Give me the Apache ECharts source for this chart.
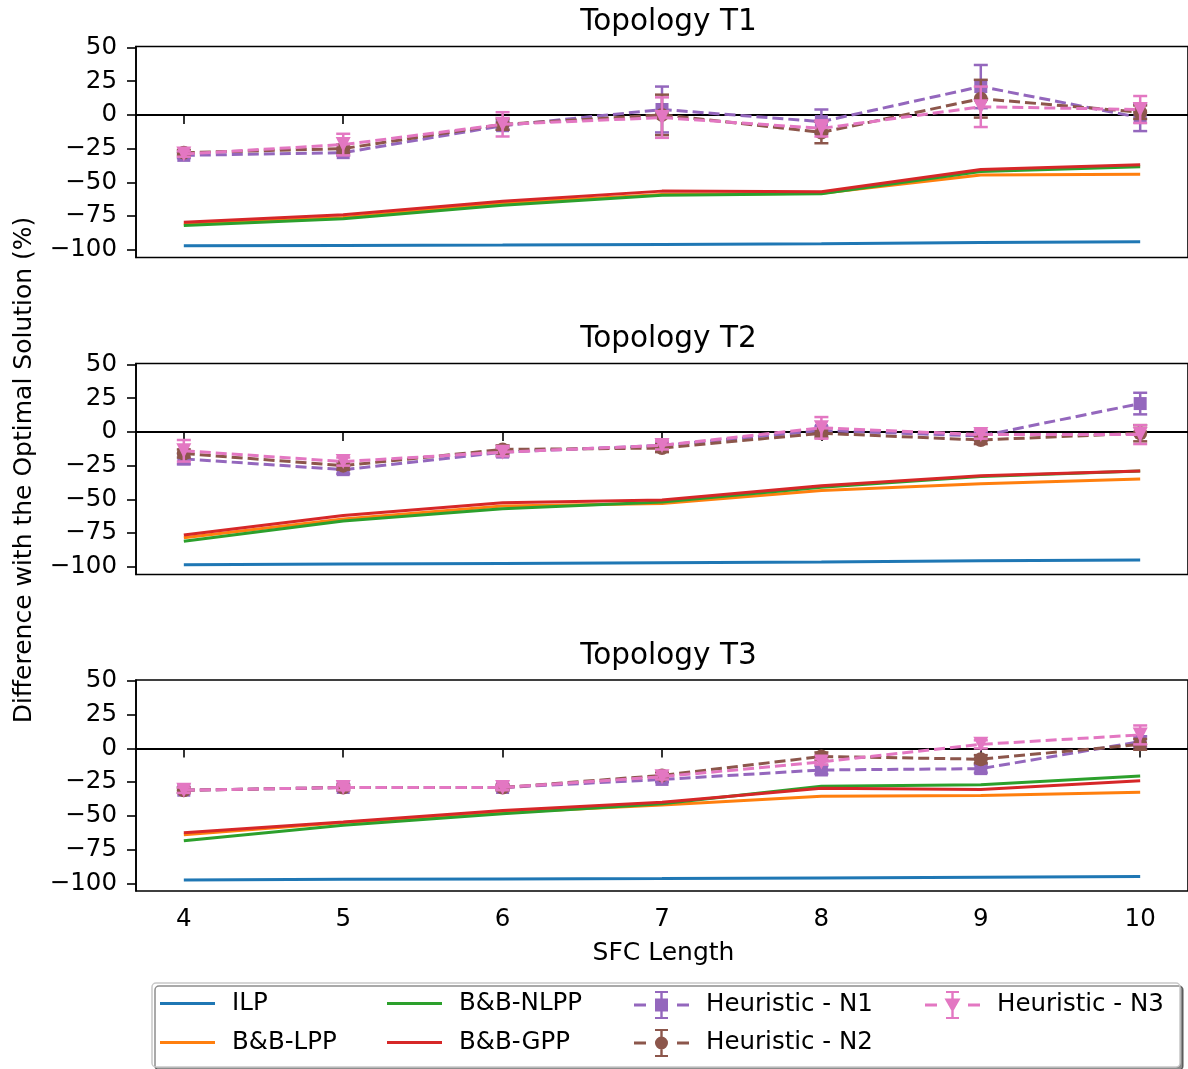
<!DOCTYPE html>
<html>
<head>
<meta charset="UTF-8">
<title>Topology T1-T3</title>
<script src="https://cdn.jsdelivr.net/npm/echarts@6/dist/echarts.min.js"></script>
<style>
  html, body { margin: 0; padding: 0; background: #fff; }
  #chart { width: 1188px; height: 1069px; }
</style>
</head>
<body>
<div id="chart"></div>
<script type="text/javascript">
// x values (SFC length) and subplot titles
var sfcLength = [4, 5, 6, 7, 8, 9, 10];
var topologies = ['Topology T1', 'Topology T2', 'Topology T3'];
var yTicks = [-100, -75, -50, -25, 0, 25, 50];

// one row per topology (T1, T2, T3)
var ilp = [
  [-97, -96.8, -96.5, -96, -95.5, -94.5, -94],
  [-98.5, -98, -97.5, -97, -96.5, -95.5, -95],
  [-97.5, -97, -96.8, -96.5, -96, -95.5, -95]
];
var bbLpp = [
  [-81, -76, -65.5, -59, -58, -44.5, -44],
  [-78.5, -64.5, -55, -53, -43.5, -38.5, -35],
  [-64, -55, -47.5, -42, -35.5, -35, -32.5]
];
var bbNlpp = [
  [-82, -77, -67, -59.5, -58.5, -42, -38.5],
  [-81, -66, -57, -52, -41, -33, -29],
  [-68.5, -57, -48.5, -41, -28, -27, -20.5]
];
var bbGpp = [
  [-79.5, -74, -64, -56.5, -57, -40.5, -37],
  [-76.5, -62, -52.5, -50.5, -40, -32.5, -29],
  [-62.5, -54.5, -46, -40, -29.5, -30.5, -24]
];
var heurN1 = [
  [-30, -28, -8, 4, -5, 21, -2],
  [-20, -28, -15, -10, 1, -3, 21],
  [-31, -29, -29, -23, -16, -15, 5]
];
var heurN1Err = [
  [2, 2, 3, 17, 9, 16, 10],
  [4, 3, 3, 2, 3, 3, 8],
  [2, 2, 2, 2, 3, 3, 4]
];
var heurN2 = [
  [-28, -25, -7, 0, -13, 12, 2],
  [-16, -25, -13, -12, -1, -6, -1],
  [-31, -29, -29, -20, -6, -8, 3]
];
var heurN2Err = [
  [2, 3, 4, 15, 8, 14, 5],
  [3, 3, 3, 3, 3, 3, 6],
  [2, 2, 2, 2, 3, 3, 4]
];
var heurN3 = [
  [-29, -22, -7, -2, -10, 6, 4],
  [-14, -22, -15, -10, 3, -2, -2],
  [-31, -29, -29, -21, -10, 3, 10]
];
var heurN3Err = [
  [2, 8, 9, 15, 6, 15, 10],
  [8, 3, 3, 3, 8, 3, 7],
  [2, 2, 2, 2, 2, 3, 7]
];

var FONT = 'DejaVu Sans';
var gridTops = [46.5, 363.5, 680];

// legend icons drawn like matplotlib handles (dash - marker/errorbar - dash)
var lineIcon = 'path://M0,0H55V3H0Z';
var errIconBase = 'M0,12.5H12V15.5H0Z M43,12.5H55V15.5H43Z M26.3,1H28.7V27H26.3Z M21,0H34V2H21Z M21,26H34V28H21Z ';
var iconN1 = 'path://' + errIconBase + 'M21,7.5H34V20.5H21Z';
var iconN2 = 'path://' + errIconBase + 'M27.5,7.5A6.5,6.5 0 1 1 27.49,7.5Z';
var iconN3 = 'path://' + errIconBase + 'M19.5,7.5H35.5L27.5,21.5Z';

var chart = echarts.init(document.getElementById('chart'));

function pairs(vals) {
  return sfcLength.map(function (x, i) { return [x, vals[i]]; });
}
function errData(vals, errs) {
  return sfcLength.map(function (x, i) { return [x, vals[i], errs[i]]; });
}
// vertical error bar with caps
function renderErr(params, api) {
  var x = api.value(0), v = api.value(1), e = api.value(2);
  var top = api.coord([x, v + e]);
  var bot = api.coord([x, v - e]);
  var c = api.visual('color');
  var w = 7;
  var st = { stroke: c, lineWidth: 2.5 };
  return {
    type: 'group',
    children: [
      { type: 'line', shape: { x1: top[0], y1: top[1], x2: bot[0], y2: bot[1] }, style: st },
      { type: 'line', shape: { x1: top[0] - w, y1: top[1], x2: top[0] + w, y2: top[1] }, style: st },
      { type: 'line', shape: { x1: bot[0] - w, y1: bot[1], x2: bot[0] + w, y2: bot[1] }, style: st }
    ]
  };
}

var grids = [], xAxes = [], yAxes = [], titles = [], series = [];

topologies.forEach(function (name, k) {
  grids.push({
    left: 136, top: gridTops[k], width: 1055, height: 211,
    show: true, borderColor: '#000', borderWidth: 1.6, backgroundColor: 'transparent'
  });
  xAxes.push({
    type: 'value', gridIndex: k, min: 3.7, max: 10.3,
    axisLine: { show: true, lineStyle: { color: '#000', width: 1.6 } },
    axisTick: { show: true, length: 9, customValues: sfcLength, lineStyle: { color: '#000', width: 1.6 } },
    axisLabel: { show: k === 2, customValues: sfcLength, margin: 16, color: '#000', fontSize: 24.5, fontFamily: FONT },
    splitLine: { show: false }
  });
  yAxes.push({
    type: 'value', gridIndex: k, min: -105.7, max: 50.7,
    axisLine: { show: true, lineStyle: { color: '#000', width: 1.6 } },
    axisTick: { show: true, length: 9, customValues: yTicks, lineStyle: { color: '#000', width: 1.6 } },
    axisLabel: {
      customValues: yTicks, margin: 19, color: '#000', fontSize: 24.5, fontFamily: FONT,
      formatter: function (v) { return v < 0 ? '\u2212' + Math.abs(v) : String(v); }
    },
    splitLine: { show: false }
  });
  titles.push({
    text: name, left: 663.5, top: gridTops[k] - 44, textAlign: 'center',
    textStyle: { fontSize: 29.5, fontWeight: 'normal', color: '#000', fontFamily: FONT }
  });

  var plain = [
    ['ILP', ilp[k], '#1f77b4'],
    ['B&B-LPP', bbLpp[k], '#ff7f0e'],
    ['B&B-NLPP', bbNlpp[k], '#2ca02c'],
    ['B&B-GPP', bbGpp[k], '#d62728']
  ];
  plain.forEach(function (p, j) {
    var s = {
      name: p[0], type: 'line', xAxisIndex: k, yAxisIndex: k,
      data: pairs(p[1]), symbol: 'none', z: 2 + j,
      itemStyle: { color: p[2] },
      lineStyle: { color: p[2], width: 3 }
    };
    if (j === 0) {
      s.markLine = {
        silent: true, symbol: 'none', label: { show: false },
        lineStyle: { color: '#000', width: 1.8, type: 'solid' },
        data: [{ yAxis: 0 }]
      };
    }
    series.push(s);
  });

  var heur = [
    ['Heuristic - N1', heurN1[k], heurN1Err[k], '#9467bd', 'rect', 0, 13],
    ['Heuristic - N2', heurN2[k], heurN2Err[k], '#8c564b', 'circle', 0, 14],
    ['Heuristic - N3', heurN3[k], heurN3Err[k], '#e377c2', 'triangle', 180, 15]
  ];
  heur.forEach(function (h, j) {
    series.push({
      name: h[0] + ' err', type: 'custom', xAxisIndex: k, yAxisIndex: k,
      data: errData(h[1], h[2]), renderItem: renderErr, z: 10 + 2 * j,
      encode: { x: 0, y: 1 }, itemStyle: { color: h[3] }
    });
    series.push({
      name: h[0], type: 'line', xAxisIndex: k, yAxisIndex: k,
      data: pairs(h[1]), symbol: h[4], symbolRotate: h[5], symbolSize: h[6],
      showSymbol: true, z: 11 + 2 * j,
      itemStyle: { color: h[3] },
      lineStyle: { color: h[3], width: 3, type: [11, 5] }
    });
  });
});

function legendAt(left, items, tall) {
  return {
    orient: 'vertical', left: left, top: 986,
    itemWidth: 55, itemHeight: tall ? 28 : 14, itemGap: tall ? 10 : 14,
    itemStyle: { borderWidth: 0 },
    textStyle: { fontSize: 24.5, fontFamily: FONT, color: '#000', lineHeight: 24, padding: [0, 0, 0, 12] },
    data: items
  };
}

var option = {
  animation: false,
  backgroundColor: '#fff',
  title: titles,
  grid: grids,
  xAxis: xAxes,
  yAxis: yAxes,
  legend: [
    legendAt(155, [{ name: 'ILP', icon: lineIcon }, { name: 'B&B-LPP', icon: lineIcon }], false),
    legendAt(382, [{ name: 'B&B-NLPP', icon: lineIcon }, { name: 'B&B-GPP', icon: lineIcon }], false),
    legendAt(629, [{ name: 'Heuristic - N1', icon: iconN1 }, { name: 'Heuristic - N2', icon: iconN2 }], true),
    legendAt(920, [{ name: 'Heuristic - N3', icon: iconN3 }], true)
  ],
  graphic: [
    {
      type: 'rect', z: -1,
      shape: { x: 152, y: 983, width: 1028, height: 84, r: 4 },
      style: { fill: '#fff', stroke: '#c8c8c8', lineWidth: 1.5,
        shadowColor: 'rgba(0,0,0,0.45)', shadowOffsetX: 3, shadowOffsetY: 3, shadowBlur: 0 }
    },
    {
      type: 'text', x: 24, y: 470, rotation: Math.PI / 2,
      style: { text: 'Difference with the Optimal Solution (%)', fontSize: 25, fontFamily: FONT,
        fill: '#000', align: 'center', verticalAlign: 'middle' }
    },
    {
      type: 'text', x: 663.5, y: 953,
      style: { text: 'SFC Length', fontSize: 25, fontFamily: FONT, fill: '#000',
        align: 'center', verticalAlign: 'middle' }
    }
  ],
  series: series
};

chart.setOption(option);
</script>
</body>
</html>
